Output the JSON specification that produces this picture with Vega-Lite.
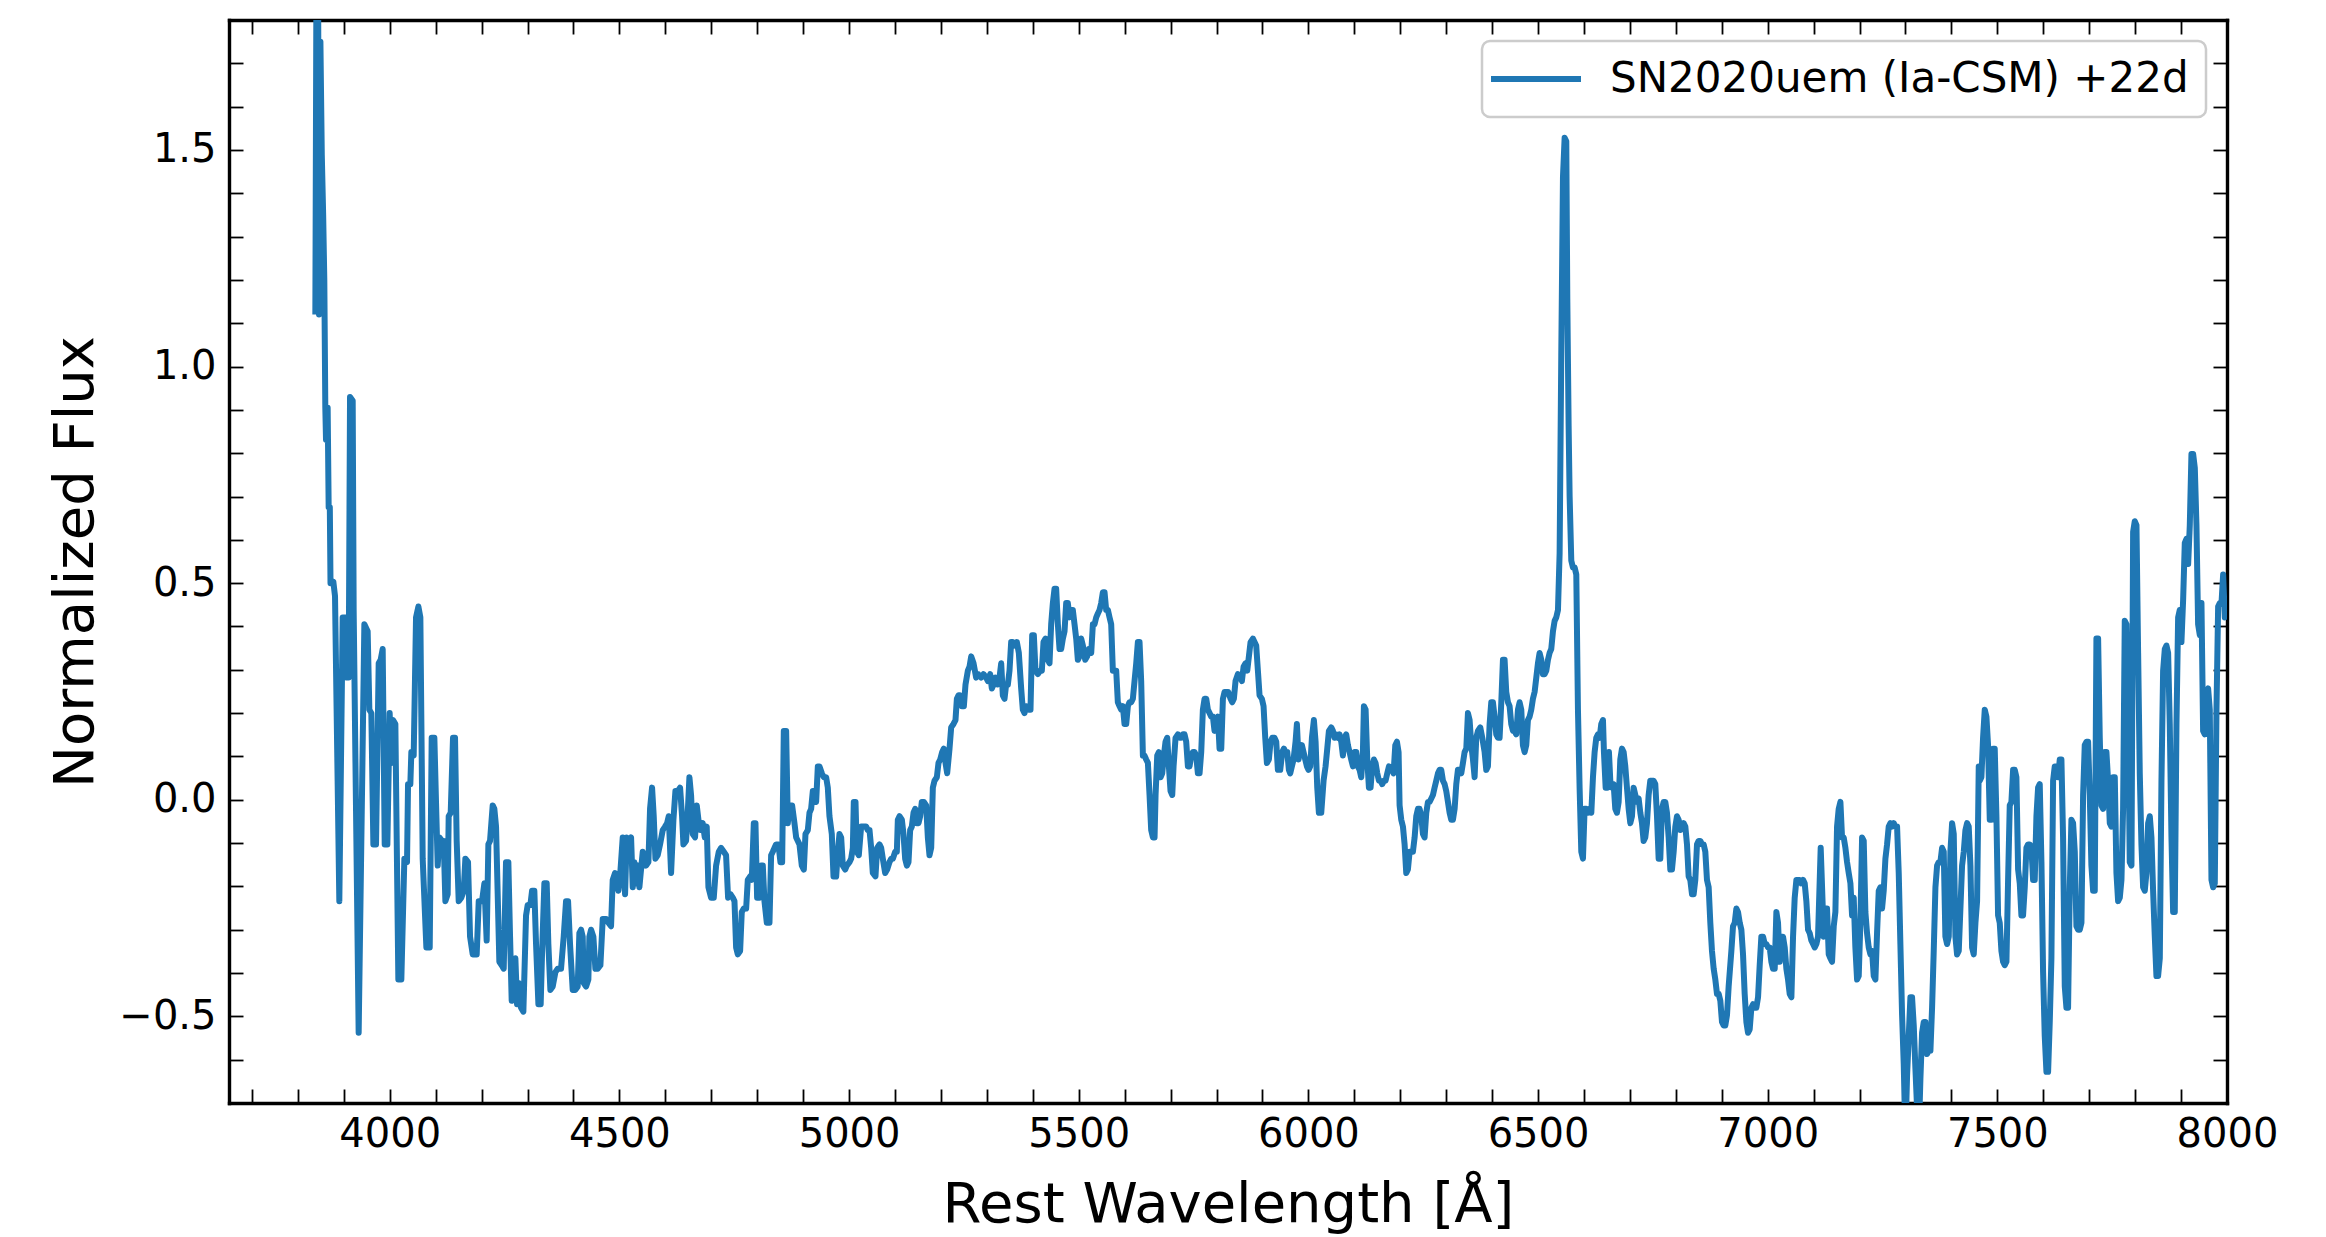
{
  "$schema": "https://vega.github.io/schema/vega-lite/v6.json",
  "width": 1998,
  "height": 1083,
  "autosize": {"type": "none"},
  "padding": {"left": 229, "top": 20, "right": 99, "bottom": 134},
  "background": "white",
  "config": {
    "view": {"stroke": null},
    "font": "DejaVu Sans",
    "axis": {"grid": false, "domain": true, "domainColor": "black", "domainWidth": 3.4, "domainCap": "square", "labelFont": "DejaVu Sans", "labelFontSize": 40, "labelColor": "black", "tickColor": "black", "tickWidth": 1.8, "titleFont": "DejaVu Sans", "titleFontSize": 56, "titleFontWeight": "normal", "titleColor": "black", "labelOverlap": false, "labelFlush": false, "labelBound": false, "tickSize": -14},
    "legend": {"strokeWidth": 2.5}
  },
  "data": {"values": [
{"w":3838,"f":1.12},{"w":3841,"f":2.1},{"w":3844,"f":1.9},{"w":3846,"f":1.12},{"w":3849,"f":1.75},{"w":3852,"f":1.49},{"w":3855,"f":1.35},{"w":3857.5,"f":1.2},{"w":3859.7,"f":0.905},{"w":3861.2,"f":0.831},{"w":3864.8,"f":0.905},{"w":3867,"f":0.675},{"w":3869.5,"f":0.675},{"w":3871,"f":0.5},{"w":3877.2,"f":0.503},{"w":3880.8,"f":0.47},{"w":3890.2,"f":-0.234},{"w":3897.5,"f":0.421},{"w":3904.8,"f":0.421},{"w":3907,"f":0.282},{"w":3910.6,"f":0.282},{"w":3913.5,"f":0.93},{"w":3919.3,"f":0.921},{"w":3921.4,"f":0.438},{"w":3932.3,"f":-0.538},{"w":3944.7,"f":0.405},{"w":3951.9,"f":0.389},{"w":3955.6,"f":0.208},{"w":3959.9,"f":0.2},{"w":3964.3,"f":-0.103},{"w":3970.1,"f":-0.103},{"w":3975.9,"f":0.315},{"w":3980.2,"f":0.323},{"w":3984.6,"f":0.348},{"w":3989,"f":-0.103},{"w":3994.8,"f":-0.103},{"w":3999.8,"f":0.2},{"w":4003.5,"f":0.085},{"w":4007.1,"f":0.184},{"w":4012.2,"f":0.175},{"w":4018.7,"f":-0.415},{"w":4025.2,"f":-0.415},{"w":4031.8,"f":-0.136},{"w":4037.6,"f":-0.144},{"w":4039.8,"f":0.036},{"w":4044.8,"f":0.036},{"w":4047,"f":0.11},{"w":4052.1,"f":0.102},{"w":4057.2,"f":0.421},{"w":4062.3,"f":0.446},{"w":4066.6,"f":0.421},{"w":4071.7,"f":-0.136},{"w":4079.7,"f":-0.341},{"w":4087,"f":-0.341},{"w":4091.3,"f":0.143},{"w":4097.1,"f":0.143},{"w":4100.7,"f":-0.005},{"w":4104.4,"f":-0.152},{"w":4108,"f":-0.087},{"w":4113.8,"f":-0.095},{"w":4117.4,"f":-0.095},{"w":4121.1,"f":-0.234},{"w":4126.1,"f":-0.218},{"w":4128.3,"f":-0.038},{"w":4132.7,"f":-0.03},{"w":4137.7,"f":0.143},{"w":4142.1,"f":0.143},{"w":4145.7,"f":-0.095},{"w":4150.1,"f":-0.234},{"w":4155.9,"f":-0.226},{"w":4161,"f":-0.21},{"w":4164.6,"f":-0.136},{"w":4170.4,"f":-0.144},{"w":4174.8,"f":-0.316},{"w":4180.6,"f":-0.357},{"w":4189.3,"f":-0.357},{"w":4193.7,"f":-0.234},
{"w":4200.9,"f":-0.234},{"w":4206,"f":-0.193},{"w":4211,"f":-0.325},{"w":4214.7,"f":-0.103},{"w":4218.3,"f":-0.095},{"w":4224.1,"f":-0.013},{"w":4227.7,"f":-0.021},{"w":4231.4,"f":-0.062},{"w":4238.6,"f":-0.374},{"w":4243.7,"f":-0.382},{"w":4248.1,"f":-0.39},{"w":4253.1,"f":-0.144},{"w":4258.2,"f":-0.144},{"w":4261.9,"f":-0.316},{"w":4265.5,"f":-0.464},{"w":4269.8,"f":-0.374},{"w":4273.5,"f":-0.366},{"w":4277.1,"f":-0.472},{"w":4280.7,"f":-0.423},{"w":4285.8,"f":-0.48},{"w":4290.9,"f":-0.489},{"w":4296.7,"f":-0.267},{"w":4300.3,"f":-0.243},{"w":4306.1,"f":-0.243},{"w":4309.8,"f":-0.21},{"w":4314.8,"f":-0.21},{"w":4318.5,"f":-0.333},{"w":4323.6,"f":-0.472},{"w":4328.6,"f":-0.472},{"w":4331.5,"f":-0.357},{"w":4336.6,"f":-0.193},{"w":4341.7,"f":-0.193},{"w":4345.3,"f":-0.333},{"w":4349.7,"f":-0.439},{"w":4354.8,"f":-0.431},{"w":4360.6,"f":-0.398},{"w":4365.7,"f":-0.39},{"w":4372.9,"f":-0.39},{"w":4378.7,"f":-0.316},{"w":4383.8,"f":-0.234},{"w":4388.2,"f":-0.234},{"w":4392.5,"f":-0.333},{"w":4398.3,"f":-0.439},{"w":4404.1,"f":-0.439},{"w":4409.2,"f":-0.431},{"w":4412.8,"f":-0.308},{"w":4416.5,"f":-0.3},{"w":4420.1,"f":-0.316},{"w":4422.3,"f":-0.423},{"w":4427.4,"f":-0.431},{"w":4432.4,"f":-0.415},{"w":4434.6,"f":-0.316},{"w":4438.3,"f":-0.3},{"w":4443.3,"f":-0.316},{"w":4447.7,"f":-0.39},{"w":4452.8,"f":-0.39},{"w":4458.6,"f":-0.382},{"w":4463.7,"f":-0.275},{"w":4470.9,"f":-0.275},{"w":4476,"f":-0.284},{"w":4481.8,"f":-0.292},{"w":4485.4,"f":-0.185},{"w":4490.5,"f":-0.169},{"w":4494.2,"f":-0.185},{"w":4497.8,"f":-0.21},{"w":4501.4,"f":-0.177},{"w":4507.2,"f":-0.087},{"w":4512.3,"f":-0.218},{"w":4515.9,"f":-0.087},{"w":4520.3,"f":-0.095},{"w":4525.4,"f":-0.087},{"w":4529,"f":-0.202},{"w":4532.6,"f":-0.144},{"w":4536.3,"f":-0.193},{"w":4539.9,"f":-0.152},{"w":4543.5,"f":-0.202},{"w":4547.1,"f":-0.161},{"w":4550.8,"f":-0.12},{"w":4554.4,"f":-0.128},{"w":4558,"f":-0.152},{"w":4563.1,"f":-0.144},{"w":4566.7,"f":-0.021},{"w":4571.1,"f":0.028},{"w":4574.7,"f":-0.038},{"w":4578.4,"f":-0.136},{"w":4583.4,"f":-0.128},{"w":4588.5,"f":-0.103},{"w":4594.3,"f":-0.07},{"w":4599.4,"f":-0.062},{"w":4603.8,"f":-0.054},{"w":4607.4,"f":-0.038},{"w":4612.5,"f":-0.169},{"w":4617.6,"f":-0.046},{"w":4621.9,"f":0.02},{"w":4627,"f":0.02},{"w":4632.1,"f":0.028},{"w":4636.4,"f":-0.038},{"w":4639.3,"f":-0.103},{"w":4645.1,"f":-0.095},{"w":4648.8,"f":-0.03},{"w":4652.4,"f":0.052},{"w":4656,"f":0.011},{"w":4659.7,"f":-0.079},{"w":4664.7,"f":-0.087},{"w":4668.4,"f":-0.013},{"w":4672,"f":-0.046},{"w":4676.4,"f":-0.07},{"w":4681.4,"f":-0.054},{"w":4685.8,"f":-0.087},{"w":4690.1,"f":-0.062},{"w":4693.8,"f":-0.202},{"w":4699.6,"f":-0.226},{"w":4705.4,"f":-0.226},{"w":4710.5,"f":-0.152},{"w":4716.3,"f":-0.12},{"w":4721.4,"f":-0.111},{"w":4727.2,"f":-0.12},{"w":4732.2,"f":-0.128},{"w":4736.6,"f":-0.226},
{"w":4741.8,"f":-0.218},{"w":4746.8,"f":-0.226},{"w":4750.5,"f":-0.234},{"w":4754.1,"f":-0.341},{"w":4757.7,"f":-0.357},{"w":4762.8,"f":-0.349},{"w":4766.4,"f":-0.259},{"w":4770.8,"f":-0.251},{"w":4775.9,"f":-0.251},{"w":4779.5,"f":-0.185},{"w":4784.6,"f":-0.177},{"w":4788.2,"f":-0.185},{"w":4792.6,"f":-0.054},{"w":4796.2,"f":-0.054},{"w":4799.8,"f":-0.226},{"w":4804.9,"f":-0.226},{"w":4808.5,"f":-0.152},{"w":4812.2,"f":-0.152},{"w":4815.8,"f":-0.234},{"w":4820.9,"f":-0.284},{"w":4826.7,"f":-0.284},{"w":4830.3,"f":-0.128},{"w":4833.9,"f":-0.12},{"w":4837.6,"f":-0.111},{"w":4841.2,"f":-0.103},{"w":4846.3,"f":-0.103},{"w":4850.6,"f":-0.144},{"w":4854.3,"f":-0.144},{"w":4857.9,"f":0.159},{"w":4863,"f":0.159},{"w":4866.6,"f":-0.054},{"w":4870.2,"f":-0.013},{"w":4876,"f":-0.013},{"w":4881.1,"f":-0.054},{"w":4884.8,"f":-0.087},{"w":4888.4,"f":-0.095},{"w":4892,"f":-0.103},{"w":4897.1,"f":-0.152},{"w":4901.5,"f":-0.161},{"w":4905.1,"f":-0.079},{"w":4910.2,"f":-0.07},{"w":4913.8,"f":-0.03},{"w":4917.4,"f":-0.021},{"w":4921.1,"f":0.02},{"w":4924.7,"f":0.02},{"w":4928.3,"f":-0.005},{"w":4932,"f":0.077},{"w":4935.6,"f":0.077},{"w":4940.7,"f":0.061},{"w":4945,"f":0.052},{"w":4950.1,"f":0.052},{"w":4953.7,"f":0.028},{"w":4957.3,"f":-0.038},{"w":4962.4,"f":-0.079},{"w":4966.1,"f":-0.177},{"w":4971.9,"f":-0.177},{"w":4975.5,"f":-0.12},{"w":4979.1,"f":-0.079},{"w":4982.8,"f":-0.087},{"w":4986.4,"f":-0.152},{"w":4991.5,"f":-0.161},{"w":4995.1,"f":-0.152},{"w":5000.9,"f":-0.144},{"w":5004.5,"f":-0.136},{"w":5008.2,"f":-0.111},{"w":5010.3,"f":-0.005},{"w":5014,"f":-0.005},{"w":5016.9,"f":-0.12},{"w":5021.2,"f":-0.128},{"w":5026.3,"f":-0.062},{"w":5031.4,"f":-0.062},{"w":5037.2,"f":-0.062},{"w":5040.8,"f":-0.07},{"w":5044.5,"f":-0.07},{"w":5048.1,"f":-0.111},{"w":5051.7,"f":-0.169},{"w":5057.5,"f":-0.177},{"w":5061.2,"f":-0.111},{"w":5066.2,"f":-0.103},{"w":5069.9,"f":-0.111},{"w":5073.5,"f":-0.136},{"w":5078.6,"f":-0.169},{"w":5082.9,"f":-0.161},{"w":5088,"f":-0.144},{"w":5091.6,"f":-0.136},{"w":5095.3,"f":-0.136},{"w":5100.4,"f":-0.12},{"w":5104,"f":-0.12},{"w":5106.2,"f":-0.046},{"w":5109.8,"f":-0.038},{"w":5114.9,"f":-0.046},{"w":5118.5,"f":-0.079},{"w":5122.1,"f":-0.136},{"w":5125.8,"f":-0.152},{"w":5129.4,"f":-0.144},{"w":5133,"f":-0.07},{"w":5136.6,"f":-0.062},{"w":5140.3,"f":-0.03},{"w":5143.9,"f":-0.021},{"w":5147.5,"f":-0.054},{"w":5151.2,"f":-0.054},{"w":5154.8,"f":-0.038},{"w":5158.4,"f":-0.005},{"w":5162.8,"f":-0.005},{"w":5167.9,"f":-0.013},{"w":5171.5,"f":-0.087},{"w":5175.1,"f":-0.128},{"w":5178.8,"f":-0.111},{"w":5182.4,"f":0.028},{"w":5186,"f":0.044},{"w":5191.1,"f":0.052},{"w":5194.7,"f":0.085},{"w":5198.4,"f":0.093},{"w":5202.7,"f":0.11},{"w":5206.3,"f":0.118},{"w":5210,"f":0.085},{"w":5213.6,"f":0.061},{"w":5218.7,"f":0.118},{"w":5222.3,"f":0.167},{"w":5227.4,"f":0.175},{"w":5231.7,"f":0.184},{"w":5234.7,"f":0.233},{"w":5238.3,"f":0.241},{"w":5241.9,"f":0.241},{"w":5245.6,"f":0.216},{"w":5249.9,"f":0.216},{"w":5253.5,"f":0.266},{"w":5258.6,"f":0.298},{"w":5262.2,"f":0.307},{"w":5265.9,"f":0.331},{"w":5271,"f":0.315},{"w":5276.7,"f":0.282},{"w":5281.1,"f":0.29},
{"w":5287.6,"f":0.282},{"w":5292.7,"f":0.29},{"w":5298.5,"f":0.282},{"w":5302.1,"f":0.274},{"w":5307.2,"f":0.29},{"w":5310.8,"f":0.257},{"w":5314.5,"f":0.266},{"w":5318.8,"f":0.282},{"w":5323.2,"f":0.266},{"w":5327.5,"f":0.282},{"w":5331.2,"f":0.315},{"w":5334.8,"f":0.241},{"w":5338.4,"f":0.233},{"w":5342,"f":0.266},{"w":5345.7,"f":0.266},{"w":5349.3,"f":0.298},{"w":5352.9,"f":0.364},{"w":5356.6,"f":0.364},{"w":5360.2,"f":0.356},{"w":5365.3,"f":0.364},{"w":5369.6,"f":0.339},{"w":5374.7,"f":0.257},{"w":5378.3,"f":0.208},{"w":5382,"f":0.2},{"w":5385.6,"f":0.216},{"w":5390.7,"f":0.208},{"w":5395,"f":0.208},{"w":5398.7,"f":0.38},{"w":5402.3,"f":0.38},{"w":5405.9,"f":0.298},{"w":5411,"f":0.29},{"w":5416.1,"f":0.298},{"w":5419.7,"f":0.298},{"w":5423.3,"f":0.364},{"w":5427.7,"f":0.372},{"w":5432.8,"f":0.323},{"w":5436.4,"f":0.315},{"w":5440,"f":0.405},{"w":5443.7,"f":0.454},{"w":5447.3,"f":0.487},{"w":5450.9,"f":0.487},{"w":5454.6,"f":0.405},{"w":5458.2,"f":0.348},{"w":5461.8,"f":0.348},{"w":5465.5,"f":0.372},{"w":5469.1,"f":0.389},{"w":5472.7,"f":0.454},{"w":5476.3,"f":0.454},{"w":5480,"f":0.421},{"w":5483.6,"f":0.438},{"w":5487.2,"f":0.438},{"w":5490.9,"f":0.405},{"w":5494.5,"f":0.372},{"w":5498.1,"f":0.323},{"w":5501.7,"f":0.331},{"w":5505.4,"f":0.372},{"w":5509,"f":0.356},{"w":5514.1,"f":0.323},{"w":5518.4,"f":0.331},{"w":5522.1,"f":0.348},{"w":5527.2,"f":0.339},{"w":5530.8,"f":0.405},{"w":5534.4,"f":0.405},{"w":5538.1,"f":0.421},{"w":5541.7,"f":0.43},{"w":5545.3,"f":0.438},{"w":5548.9,"f":0.454},{"w":5552.6,"f":0.479},{"w":5556.2,"f":0.479},{"w":5559.8,"f":0.438},{"w":5563.5,"f":0.438},{"w":5567.1,"f":0.421},{"w":5570.7,"f":0.405},{"w":5574.3,"f":0.298},{"w":5578,"f":0.298},{"w":5581.6,"f":0.298},{"w":5585.2,"f":0.225},{"w":5588.9,"f":0.216},{"w":5592.5,"f":0.208},{"w":5596.1,"f":0.216},{"w":5599.7,"f":0.175},{"w":5603.4,"f":0.175},{"w":5607,"f":0.216},{"w":5610.6,"f":0.225},{"w":5614.3,"f":0.225},{"w":5617.9,"f":0.233},{"w":5621.5,"f":0.274},{"w":5625.2,"f":0.315},{"w":5628.8,"f":0.364},{"w":5632.4,"f":0.364},{"w":5636,"f":0.274},{"w":5639.7,"f":0.102},{"w":5643.3,"f":0.102},{"w":5646.9,"f":0.093},{"w":5650.6,"f":0.085},{"w":5654.2,"f":0.011},{"w":5657.8,"f":-0.07},{"w":5661.5,"f":-0.087},{"w":5665.1,"f":-0.087},{"w":5667.3,"f":0.011},{"w":5670.9,"f":0.102},{"w":5674.5,"f":0.11},{"w":5678.2,"f":0.052},{"w":5681.8,"f":0.061},{"w":5685.4,"f":0.102},{"w":5689,"f":0.134},{"w":5692.7,"f":0.143},{"w":5696.3,"f":0.077},{"w":5699.9,"f":0.02},{"w":5703.6,"f":0.011},{"w":5706.5,"f":0.077},{"w":5710.8,"f":0.143},{"w":5715.9,"f":0.151},{"w":5719.5,"f":0.143},{"w":5723.2,"f":0.143},{"w":5726.8,"f":0.151},{"w":5730.4,"f":0.151},{"w":5734,"f":0.134},{"w":5737.7,"f":0.077},{"w":5741.3,"f":0.077},{"w":5744.9,"f":0.102},{"w":5748.6,"f":0.11},{"w":5752.2,"f":0.11},{"w":5755.8,"f":0.102},{"w":5759.4,"f":0.061},{"w":5763.1,"f":0.061},{"w":5766.7,"f":0.11},{"w":5770.3,"f":0.208},{"w":5774,"f":0.233},{"w":5777.6,"f":0.233},{"w":5781.2,"f":0.208},{"w":5784.9,"f":0.2},{"w":5788.5,"f":0.192},{"w":5792.1,"f":0.192},{"w":5795.7,"f":0.159},{"w":5799.4,"f":0.184},{"w":5803,"f":0.192},{"w":5806.6,"f":0.118},{"w":5810.3,"f":0.118},{"w":5813.9,"f":0.233},{"w":5817.5,"f":0.249},{"w":5821.2,"f":0.249},{"w":5825.5,"f":0.249},
{"w":5830.6,"f":0.233},{"w":5834.2,"f":0.225},{"w":5837.8,"f":0.233},{"w":5841.4,"f":0.274},{"w":5846.5,"f":0.29},{"w":5851.6,"f":0.282},{"w":5855.2,"f":0.274},{"w":5858.9,"f":0.307},{"w":5863.2,"f":0.315},{"w":5866.9,"f":0.298},{"w":5870.5,"f":0.331},{"w":5874.1,"f":0.364},{"w":5879.2,"f":0.372},{"w":5882.8,"f":0.364},{"w":5886.4,"f":0.356},{"w":5890.1,"f":0.298},{"w":5893.7,"f":0.241},{"w":5898.8,"f":0.233},{"w":5902.4,"f":0.216},{"w":5906.1,"f":0.143},{"w":5909.7,"f":0.085},{"w":5914,"f":0.093},{"w":5917.7,"f":0.134},{"w":5921.3,"f":0.143},{"w":5926.4,"f":0.143},{"w":5930,"f":0.134},{"w":5933.6,"f":0.069},{"w":5938.7,"f":0.069},{"w":5943.1,"f":0.11},{"w":5946.7,"f":0.118},{"w":5950.3,"f":0.11},{"w":5954,"f":0.11},{"w":5957.6,"f":0.069},{"w":5960.5,"f":0.061},{"w":5964.1,"f":0.077},{"w":5967.7,"f":0.093},{"w":5972.1,"f":0.134},{"w":5975,"f":0.175},{"w":5978.6,"f":0.093},{"w":5982.3,"f":0.118},{"w":5985.9,"f":0.126},{"w":5989.5,"f":0.11},{"w":5993.2,"f":0.093},{"w":5996.8,"f":0.077},{"w":6000.4,"f":0.069},{"w":6004,"f":0.077},{"w":6007.7,"f":0.143},{"w":6012,"f":0.184},{"w":6015.7,"f":0.134},{"w":6019.3,"f":0.028},{"w":6022.9,"f":-0.03},{"w":6028,"f":-0.03},{"w":6033.1,"f":0.044},{"w":6037.4,"f":0.077},{"w":6041.1,"f":0.118},{"w":6044.7,"f":0.159},{"w":6049.8,"f":0.167},{"w":6053.4,"f":0.159},{"w":6057,"f":0.143},{"w":6060.7,"f":0.151},{"w":6064.3,"f":0.143},{"w":6067.9,"f":0.151},{"w":6071.6,"f":0.134},{"w":6075.2,"f":0.102},{"w":6078.8,"f":0.143},{"w":6082.4,"f":0.151},{"w":6086.1,"f":0.126},{"w":6089.7,"f":0.11},{"w":6093.3,"f":0.093},{"w":6097,"f":0.077},{"w":6100.6,"f":0.11},{"w":6104.2,"f":0.11},{"w":6107.8,"f":0.077},{"w":6111.5,"f":0.069},{"w":6115.1,"f":0.052},{"w":6118.7,"f":0.11},{"w":6120.9,"f":0.216},{"w":6124.6,"f":0.208},{"w":6128.2,"f":0.093},{"w":6131.8,"f":0.028},{"w":6135.4,"f":0.028},{"w":6139.1,"f":0.077},{"w":6142.7,"f":0.093},{"w":6146.3,"f":0.085},{"w":6150,"f":0.061},{"w":6153.6,"f":0.044},{"w":6157.2,"f":0.044},{"w":6160.8,"f":0.036},{"w":6164.5,"f":0.044},{"w":6168.1,"f":0.044},{"w":6171.7,"f":0.061},{"w":6175.4,"f":0.077},{"w":6179,"f":0.069},{"w":6182.6,"f":0.069},{"w":6185.5,"f":0.061},{"w":6189.2,"f":0.126},{"w":6192.8,"f":0.134},{"w":6196.4,"f":0.11},{"w":6198.6,"f":-0.013},{"w":6202.2,"f":-0.046},{"w":6205.9,"f":-0.062},{"w":6209.5,"f":-0.103},{"w":6213.1,"f":-0.169},{"w":6216.7,"f":-0.161},{"w":6220.4,"f":-0.12},{"w":6224,"f":-0.12},{"w":6227.6,"f":-0.12},{"w":6231.3,"f":-0.087},{"w":6234.9,"f":-0.038},{"w":6238.5,"f":-0.021},{"w":6242.1,"f":-0.021},{"w":6245.8,"f":-0.038},{"w":6249.4,"f":-0.079},{"w":6253,"f":-0.087},{"w":6256.7,"f":-0.03},{"w":6260.3,"f":-0.005},{"w":6263.9,"f":-0.005},{"w":6267.6,"f":0.003},{"w":6271.2,"f":0.011},{"w":6274.8,"f":0.028},{"w":6278.4,"f":0.044},{"w":6282.1,"f":0.061},{"w":6285.7,"f":0.069},{"w":6289.3,"f":0.069},{"w":6293,"f":0.044},{"w":6296.6,"f":0.036},{"w":6300.2,"f":0.02},{"w":6303.9,"f":-0.005},{"w":6307.5,"f":-0.03},{"w":6311.1,"f":-0.046},{"w":6314.7,"f":-0.046},{"w":6318.4,"f":-0.021},{"w":6322,"f":0.036},{"w":6325.6,"f":0.069},{"w":6329.3,"f":0.069},{"w":6332.9,"f":0.061},{"w":6336.5,"f":0.085},{"w":6340.1,"f":0.11},{"w":6343.8,"f":0.118},{"w":6347.4,"f":0.2},{"w":6351,"f":0.184},{"w":6354.7,"f":0.126},{"w":6358.3,"f":0.093},{"w":6361.9,"f":0.052},{"w":6365.5,"f":0.143},{"w":6369.2,"f":0.159},
{"w":6374.2,"f":0.167},{"w":6378.6,"f":0.143},{"w":6383.7,"f":0.11},{"w":6387.3,"f":0.069},{"w":6390.9,"f":0.077},{"w":6394.6,"f":0.175},{"w":6398.2,"f":0.225},{"w":6401.8,"f":0.225},{"w":6405.4,"f":0.192},{"w":6409.1,"f":0.151},{"w":6412.7,"f":0.143},{"w":6416.3,"f":0.143},{"w":6420,"f":0.225},{"w":6423.6,"f":0.323},{"w":6427.2,"f":0.323},{"w":6430.8,"f":0.249},{"w":6434.5,"f":0.225},{"w":6438.1,"f":0.216},{"w":6441.7,"f":0.175},{"w":6445.4,"f":0.159},{"w":6449,"f":0.159},{"w":6452.6,"f":0.151},{"w":6456.3,"f":0.208},{"w":6459.9,"f":0.225},{"w":6463.5,"f":0.208},{"w":6467.1,"f":0.126},{"w":6470.8,"f":0.11},{"w":6474.4,"f":0.126},{"w":6478,"f":0.184},{"w":6481.7,"f":0.192},{"w":6485.3,"f":0.208},{"w":6488.9,"f":0.233},{"w":6492.6,"f":0.249},{"w":6496.2,"f":0.282},{"w":6499.8,"f":0.315},{"w":6503.4,"f":0.339},{"w":6507.1,"f":0.323},{"w":6510.7,"f":0.29},{"w":6514.3,"f":0.29},{"w":6518,"f":0.298},{"w":6521.6,"f":0.323},{"w":6525.2,"f":0.339},{"w":6528.8,"f":0.348},{"w":6532.5,"f":0.389},{"w":6536.1,"f":0.413},{"w":6539.7,"f":0.421},{"w":6543.4,"f":0.438},{"w":6547,"f":0.569},{"w":6550.6,"f":1.028},{"w":6554.3,"f":1.438},{"w":6557.9,"f":1.528},{"w":6561.5,"f":1.52},{"w":6563.7,"f":1.159},{"w":6566.6,"f":0.864},{"w":6568.8,"f":0.7},{"w":6572.4,"f":0.552},{"w":6576,"f":0.536},{"w":6579.7,"f":0.536},{"w":6583.3,"f":0.52},{"w":6586.9,"f":0.208},{"w":6590.5,"f":0.028},{"w":6594.2,"f":-0.12},{"w":6597.8,"f":-0.136},{"w":6601.4,"f":-0.021},{"w":6605.1,"f":-0.021},{"w":6608.7,"f":-0.03},{"w":6612.3,"f":-0.021},{"w":6616,"f":-0.03},{"w":6619.6,"f":0.052},{"w":6623.2,"f":0.11},{"w":6626.8,"f":0.143},{"w":6630.5,"f":0.151},{"w":6634.1,"f":0.143},{"w":6637.7,"f":0.175},{"w":6641.4,"f":0.184},{"w":6643.5,"f":0.11},{"w":6647.2,"f":0.028},{"w":6650.8,"f":0.028},{"w":6654.4,"f":0.11},{"w":6657.3,"f":0.044},{"w":6661,"f":0.028},{"w":6664.6,"f":0.036},{"w":6668.2,"f":-0.021},{"w":6671.8,"f":-0.03},{"w":6675.5,"f":-0.005},{"w":6679.1,"f":0.093},{"w":6682.7,"f":0.118},{"w":6686.4,"f":0.11},{"w":6690,"f":0.077},{"w":6693.6,"f":0.028},{"w":6697.3,"f":-0.021},{"w":6700.9,"f":-0.054},{"w":6704.5,"f":-0.038},{"w":6708.1,"f":0.028},{"w":6711.8,"f":0.011},{"w":6715.4,"f":-0.005},{"w":6719,"f":0.003},{"w":6722.7,"f":-0.03},{"w":6726.3,"f":-0.054},{"w":6729.9,"f":-0.095},{"w":6733.5,"f":-0.087},{"w":6737.2,"f":-0.054},{"w":6740.8,"f":0.011},{"w":6744.4,"f":0.044},{"w":6748.1,"f":0.044},{"w":6751.7,"f":0.044},{"w":6755.3,"f":0.036},{"w":6759,"f":-0.038},{"w":6762.6,"f":-0.136},{"w":6766.2,"f":-0.136},{"w":6769.8,"f":-0.021},{"w":6773.5,"f":-0.005},{"w":6777.1,"f":-0.005},{"w":6780.7,"f":-0.03},{"w":6784.4,"f":-0.087},{"w":6788,"f":-0.161},{"w":6791.6,"f":-0.161},{"w":6795.3,"f":-0.12},{"w":6798.9,"f":-0.062},{"w":6802.5,"f":-0.038},{"w":6806.1,"f":-0.046},{"w":6809.8,"f":-0.07},{"w":6813.4,"f":-0.062},{"w":6817,"f":-0.054},{"w":6820.7,"f":-0.062},{"w":6824.3,"f":-0.103},{"w":6827.9,"f":-0.177},{"w":6831.5,"f":-0.185},{"w":6835.2,"f":-0.218},{"w":6838.8,"f":-0.218},{"w":6842.4,"f":-0.185},{"w":6846.1,"f":-0.103},{"w":6849.7,"f":-0.095},{"w":6853.3,"f":-0.095},{"w":6857,"f":-0.103},{"w":6860.6,"f":-0.103},{"w":6864.2,"f":-0.12},{"w":6867.8,"f":-0.185},{"w":6871.5,"f":-0.202},{"w":6875.1,"f":-0.284},{"w":6878.7,"f":-0.349},{"w":6882.4,"f":-0.39},{"w":6886,"f":-0.415},{"w":6889.6,"f":-0.448},{"w":6893.2,"f":-0.448},{"w":6896.9,"f":-0.464},{"w":6900.5,"f":-0.513},{"w":6904.1,"f":-0.521},{"w":6907.7,"f":-0.521},{"w":6911.4,"f":-0.497},{"w":6915,"f":-0.431},
{"w":6920.9,"f":-0.349},{"w":6924.5,"f":-0.292},{"w":6928.2,"f":-0.284},{"w":6931.8,"f":-0.251},{"w":6935.4,"f":-0.259},{"w":6939.1,"f":-0.284},{"w":6942.7,"f":-0.3},{"w":6946.3,"f":-0.357},{"w":6949.9,"f":-0.448},{"w":6953.6,"f":-0.513},{"w":6957.2,"f":-0.538},{"w":6960.8,"f":-0.53},{"w":6964.5,"f":-0.48},{"w":6968.1,"f":-0.472},{"w":6971.7,"f":-0.48},{"w":6975.3,"f":-0.48},{"w":6979,"f":-0.456},{"w":6982.6,"f":-0.382},{"w":6986.2,"f":-0.316},{"w":6989.9,"f":-0.316},{"w":6993.5,"f":-0.333},{"w":6997.1,"f":-0.333},{"w":7000.8,"f":-0.341},{"w":7004.4,"f":-0.341},{"w":7008,"f":-0.374},{"w":7011.6,"f":-0.39},{"w":7015.3,"f":-0.39},{"w":7018.9,"f":-0.259},{"w":7022.5,"f":-0.284},{"w":7026.2,"f":-0.374},{"w":7029.8,"f":-0.316},{"w":7033.4,"f":-0.316},{"w":7037.1,"f":-0.341},{"w":7040.7,"f":-0.39},{"w":7044.3,"f":-0.415},{"w":7047.9,"f":-0.448},{"w":7051.6,"f":-0.456},{"w":7055.2,"f":-0.316},{"w":7058.8,"f":-0.226},{"w":7062.5,"f":-0.185},{"w":7066.1,"f":-0.185},{"w":7069.7,"f":-0.185},{"w":7073.3,"f":-0.193},{"w":7077,"f":-0.185},{"w":7080.6,"f":-0.193},{"w":7084.2,"f":-0.234},{"w":7087.9,"f":-0.3},{"w":7091.5,"f":-0.308},{"w":7095.1,"f":-0.325},{"w":7098.8,"f":-0.333},{"w":7102.4,"f":-0.341},{"w":7106,"f":-0.333},{"w":7109.6,"f":-0.316},{"w":7113.3,"f":-0.185},{"w":7115.4,"f":-0.111},{"w":7118.4,"f":-0.202},{"w":7122,"f":-0.316},{"w":7125.6,"f":-0.251},{"w":7129.2,"f":-0.251},{"w":7132.9,"f":-0.357},{"w":7136.5,"f":-0.366},{"w":7140.1,"f":-0.374},{"w":7143.8,"f":-0.292},{"w":7147.4,"f":-0.259},{"w":7151,"f":-0.062},{"w":7154.6,"f":-0.021},{"w":7158.3,"f":-0.005},{"w":7161.9,"f":-0.087},{"w":7165.5,"f":-0.087},{"w":7169.2,"f":-0.111},{"w":7172.8,"f":-0.144},{"w":7176.4,"f":-0.169},{"w":7180.1,"f":-0.193},{"w":7183.7,"f":-0.267},{"w":7187.3,"f":-0.226},{"w":7190.9,"f":-0.341},{"w":7194.6,"f":-0.415},{"w":7198.2,"f":-0.407},{"w":7201.8,"f":-0.284},{"w":7205.5,"f":-0.087},{"w":7209.1,"f":-0.095},{"w":7212.7,"f":-0.259},{"w":7216.3,"f":-0.308},{"w":7220,"f":-0.341},{"w":7223.6,"f":-0.357},{"w":7227.2,"f":-0.349},{"w":7230.9,"f":-0.407},{"w":7234.5,"f":-0.415},{"w":7238.1,"f":-0.308},{"w":7241.8,"f":-0.21},{"w":7245.4,"f":-0.202},{"w":7249,"f":-0.251},{"w":7252.6,"f":-0.21},{"w":7256.3,"f":-0.136},{"w":7259.9,"f":-0.103},{"w":7263.5,"f":-0.062},{"w":7267.2,"f":-0.054},{"w":7270.8,"f":-0.062},{"w":7274.4,"f":-0.054},{"w":7278,"f":-0.062},{"w":7281.7,"f":-0.062},{"w":7285.3,"f":-0.169},{"w":7288.9,"f":-0.333},{"w":7292.6,"f":-0.497},{"w":7296.2,"f":-0.611},{"w":7299.8,"f":-0.78},{"w":7303.5,"f":-0.636},{"w":7307.1,"f":-0.546},{"w":7310.7,"f":-0.456},{"w":7314.3,"f":-0.456},{"w":7318,"f":-0.521},{"w":7321.6,"f":-0.62},{"w":7325.2,"f":-0.71},{"w":7328.9,"f":-0.78},{"w":7332.5,"f":-0.644},{"w":7336.1,"f":-0.538},{"w":7339.8,"f":-0.513},{"w":7343.4,"f":-0.513},{"w":7347,"f":-0.587},{"w":7350.6,"f":-0.579},{"w":7354.3,"f":-0.579},{"w":7357.9,"f":-0.48},{"w":7361.5,"f":-0.349},{"w":7365.2,"f":-0.202},{"w":7368.8,"f":-0.152},{"w":7372.4,"f":-0.144},{"w":7376,"f":-0.144},{"w":7379.7,"f":-0.111},{"w":7383.3,"f":-0.12},{"w":7386.9,"f":-0.316},{"w":7390.6,"f":-0.333},{"w":7394.2,"f":-0.316},{"w":7397.8,"f":-0.12},{"w":7401.5,"f":-0.054},{"w":7405.1,"f":-0.079},{"w":7408.7,"f":-0.316},{"w":7412.3,"f":-0.357},{"w":7416,"f":-0.349},{"w":7419.6,"f":-0.251},{"w":7423.2,"f":-0.152},{"w":7426.9,"f":-0.12},{"w":7430.5,"f":-0.07},{"w":7434.1,"f":-0.054},{"w":7437.7,"f":-0.062},{"w":7441.4,"f":-0.152},{"w":7445,"f":-0.341},{"w":7448.6,"f":-0.357},{"w":7452.3,"f":-0.284},{"w":7455.9,"f":-0.234},{"w":7459.5,"f":0.077},
{"w":7461.7,"f":0.044},{"w":7465.3,"f":0.052},{"w":7468.9,"f":0.143},{"w":7472.6,"f":0.208},{"w":7476.2,"f":0.192},{"w":7479.8,"f":0.126},{"w":7483.5,"f":-0.046},{"w":7487.1,"f":-0.046},{"w":7490.7,"f":0.118},{"w":7494.3,"f":0.118},{"w":7498,"f":-0.038},{"w":7501.6,"f":-0.267},{"w":7505.2,"f":-0.284},{"w":7508.9,"f":-0.349},{"w":7512.5,"f":-0.374},{"w":7516.1,"f":-0.382},{"w":7519.8,"f":-0.374},{"w":7523.4,"f":-0.185},{"w":7527,"f":-0.013},{"w":7530.6,"f":-0.005},{"w":7534.3,"f":0.069},{"w":7537.9,"f":0.069},{"w":7541.5,"f":0.052},{"w":7545.2,"f":-0.161},{"w":7548.8,"f":-0.193},{"w":7552.4,"f":-0.267},{"w":7556,"f":-0.267},{"w":7559.7,"f":-0.202},{"w":7563.3,"f":-0.111},{"w":7566.9,"f":-0.103},{"w":7570.6,"f":-0.103},{"w":7574.2,"f":-0.111},{"w":7577.8,"f":-0.185},{"w":7581.4,"f":-0.185},{"w":7585.1,"f":-0.038},{"w":7588.7,"f":0.028},{"w":7592.3,"f":0.036},{"w":7596,"f":-0.144},{"w":7599.6,"f":-0.398},{"w":7603.2,"f":-0.546},{"w":7606.9,"f":-0.628},{"w":7610.5,"f":-0.628},{"w":7614.1,"f":-0.513},{"w":7617.7,"f":-0.366},{"w":7621.4,"f":0.044},{"w":7625,"f":0.077},{"w":7628.6,"f":0.077},{"w":7632.3,"f":0.052},{"w":7635.9,"f":0.093},{"w":7639.5,"f":0.093},{"w":7643.1,"f":-0.087},{"w":7646.8,"f":-0.431},{"w":7650.4,"f":-0.48},{"w":7654,"f":-0.48},{"w":7657.7,"f":-0.202},{"w":7661.3,"f":-0.046},{"w":7664.9,"f":-0.054},{"w":7668.6,"f":-0.12},{"w":7672.2,"f":-0.292},{"w":7675.8,"f":-0.3},{"w":7679.4,"f":-0.3},{"w":7683.1,"f":-0.284},{"w":7686.7,"f":0.011},{"w":7690.3,"f":0.126},{"w":7694,"f":0.134},{"w":7697.6,"f":0.134},{"w":7701.2,"f":0.011},{"w":7704.8,"f":-0.152},{"w":7708.5,"f":-0.21},{"w":7712.1,"f":-0.21},{"w":7715.7,"f":0.372},{"w":7719.4,"f":0.372},{"w":7723,"f":0.143},{"w":7726.6,"f":-0.013},{"w":7730.3,"f":-0.021},{"w":7733.9,"f":0.11},{"w":7737.5,"f":0.11},{"w":7741.1,"f":0.044},{"w":7744.8,"f":-0.054},{"w":7748.4,"f":-0.062},{"w":7752,"f":0.052},{"w":7755.7,"f":0.052},{"w":7759.3,"f":-0.169},{"w":7762.9,"f":-0.234},{"w":7766.6,"f":-0.226},{"w":7770.2,"f":-0.185},{"w":7773.8,"f":-0.021},{"w":7777.4,"f":0.413},{"w":7781.1,"f":0.405},{"w":7784.7,"f":0.192},{"w":7788.3,"f":-0.144},{"w":7792,"f":-0.152},{"w":7795.6,"f":0.618},{"w":7799.2,"f":0.643},{"w":7802.9,"f":0.634},{"w":7806.5,"f":0.339},{"w":7810.1,"f":0.061},{"w":7813.7,"f":-0.103},{"w":7817.4,"f":-0.202},{"w":7821,"f":-0.21},{"w":7824.6,"f":-0.169},{"w":7828.3,"f":-0.054},{"w":7831.9,"f":-0.038},{"w":7835.5,"f":-0.087},{"w":7839.1,"f":-0.21},{"w":7842.8,"f":-0.316},{"w":7846.4,"f":-0.407},{"w":7850,"f":-0.407},{"w":7853.7,"f":-0.366},{"w":7857.3,"f":0.044},{"w":7860.9,"f":0.298},{"w":7864.6,"f":0.348},{"w":7868.2,"f":0.356},{"w":7871.8,"f":0.339},{"w":7875.4,"f":0.175},{"w":7879.1,"f":-0.087},{"w":7882.7,"f":-0.259},{"w":7886.3,"f":-0.259},{"w":7890,"f":0.175},{"w":7893.6,"f":0.421},{"w":7897.2,"f":0.438},{"w":7900.8,"f":0.364},{"w":7904.5,"f":0.462},{"w":7908.1,"f":0.593},{"w":7911.7,"f":0.602},{"w":7915.4,"f":0.544},{"w":7919,"f":0.634},{"w":7922.6,"f":0.798},{"w":7926.3,"f":0.798},{"w":7929.9,"f":0.766},{"w":7933.5,"f":0.634},{"w":7937.1,"f":0.405},{"w":7940.8,"f":0.38},{"w":7944.4,"f":0.454},{"w":7948,"f":0.159},{"w":7951.7,"f":0.151},{"w":7955.3,"f":0.249},{"w":7958.9,"f":0.257},{"w":7962.5,"f":0.208},{"w":7966.2,"f":-0.185},{"w":7969.8,"f":-0.202},{"w":7973.4,"f":-0.193},{"w":7977.1,"f":0.208},{"w":7980.7,"f":0.446},{"w":7984.3,"f":0.454},{"w":7988,"f":0.454},{"w":7991.6,"f":0.52},{"w":7995.2,"f":0.421},{"w":7999.5,"f":0.44},{"w":8004,"f":0.47}
  ]},
  "layer": [
    {
      "mark": {"type": "line", "clip": true, "strokeWidth": 6, "strokeJoin": "round"},
      "encoding": {
        "x": {"field": "w", "type": "quantitative",
          "scale": {"domain": [3650, 8000], "nice": false, "zero": false},
          "axis": {"orient": "bottom",
            "values": [3700,3800,3900,4000,4100,4200,4300,4400,4500,4600,4700,4800,4900,5000,5100,5200,5300,5400,5500,5600,5700,5800,5900,6000,6100,6200,6300,6400,6500,6600,6700,6800,6900,7000,7100,7200,7300,7400,7500,7600,7700,7800,7900,8000],
            "format": "d",
            "labelExpr": "datum.value % 500 === 0 ? datum.label : ''",
            "labelPadding": 25,
            "title": "Rest Wavelength [Å]",
            "titleX": 999, "titleY": 118, "titleBaseline": "alphabetic", "titleAlign": "center",
            "encode": {"ticks": {"y2": {"condition": {"test": "datum.value % 500 === 0", "value": -25}, "value": -14}, "strokeWidth": {"condition": {"test": "datum.value % 500 === 0", "value": 3}, "value": 1.8}}}
          }
        },
        "y": {"field": "f", "type": "quantitative",
          "scale": {"domain": [-0.7, 1.8], "nice": false, "zero": false},
          "axis": {"orient": "left",
            "values": [-0.6,-0.5,-0.4,-0.3,-0.2,-0.1,0,0.1,0.2,0.3,0.4,0.5,0.6,0.7,0.8,0.9,1.0,1.1,1.2,1.3,1.4,1.5,1.6,1.7],
            "format": ".1f",
            "labelExpr": "abs(datum.value*2 - round(datum.value*2)) < 0.001 ? datum.label : ''",
            "labelPadding": 27,
            "title": "Normalized Flux",
            "titleX": -137, "titleY": 541.5, "titleAngle": -90, "titleBaseline": "alphabetic", "titleAlign": "center",
            "encode": {"ticks": {"x2": {"condition": {"test": "abs(datum.value*2 - round(datum.value*2)) < 0.001", "value": 25}, "value": 14}, "strokeWidth": {"condition": {"test": "abs(datum.value*2 - round(datum.value*2)) < 0.001", "value": 3}, "value": 1.8}}}
          }
        },
        "color": {"datum": "SN2020uem (Ia-CSM) +22d", "scale": {"range": ["#1f77b4"]},
          "legend": {"title": null, "orient": "top-right", "offset": 21, "symbolType": "M-2.571,0H2.571", "symbolSize": 1225, "symbolStrokeWidth": 6, "symbolOffset": 16, "labelFontSize": 42, "labelFont": "DejaVu Sans", "labelColor": "black", "padding": 17, "strokeColor": "#cccccc", "fillColor": "rgba(255,255,255,0.8)", "cornerRadius": 8, "labelOffset": 53, "labelLimit": 0}
        }
      }
    },
    {
      "mark": {"type": "line", "clip": true, "opacity": 0},
      "encoding": {
        "x": {"field": "w", "type": "quantitative",
          "axis": {"orient": "top",
            "values": [3700,3800,3900,4000,4100,4200,4300,4400,4500,4600,4700,4800,4900,5000,5100,5200,5300,5400,5500,5600,5700,5800,5900,6000,6100,6200,6300,6400,6500,6600,6700,6800,6900,7000,7100,7200,7300,7400,7500,7600,7700,7800,7900,8000],
            "labels": false, "title": null,
            "encode": {"ticks": {"y2": {"condition": {"test": "datum.value % 500 === 0", "value": 25}, "value": 14}, "strokeWidth": {"condition": {"test": "datum.value % 500 === 0", "value": 3}, "value": 1.8}}}
          }
        },
        "y": {"field": "f", "type": "quantitative",
          "axis": {"orient": "right",
            "values": [-0.6,-0.5,-0.4,-0.3,-0.2,-0.1,0,0.1,0.2,0.3,0.4,0.5,0.6,0.7,0.8,0.9,1.0,1.1,1.2,1.3,1.4,1.5,1.6,1.7],
            "labels": false, "title": null,
            "encode": {"ticks": {"x2": {"condition": {"test": "abs(datum.value*2 - round(datum.value*2)) < 0.001", "value": -25}, "value": -14}, "strokeWidth": {"condition": {"test": "abs(datum.value*2 - round(datum.value*2)) < 0.001", "value": 3}, "value": 1.8}}}
          }
        }
      }
    }
  ],
  "resolve": {"axis": {"x": "independent", "y": "independent"}}
}
